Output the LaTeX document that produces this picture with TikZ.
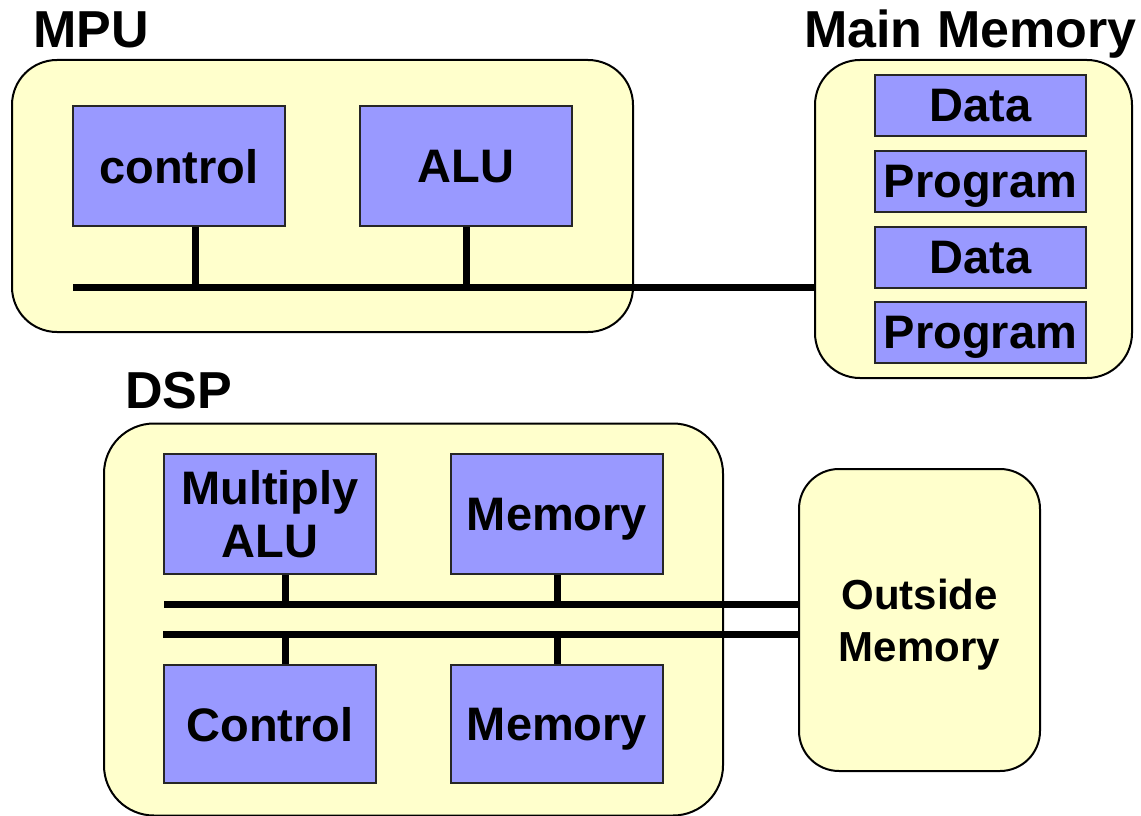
\documentclass[tikz,border=0pt]{standalone}
\usepackage{fontspec}
\setmainfont{Liberation Sans}
\definecolor{paleyellow}{HTML}{FFFFCC}
\definecolor{lavblue}{HTML}{9999FF}
\begin{document}
\begin{tikzpicture}[x=1pt,y=-1pt,
  outer/.style={draw=black, line width=2pt, fill=paleyellow, rounded corners=45pt, inner sep=0pt},
  unit/.style={draw=black!85, line width=2pt, fill=lavblue, inner sep=0pt, minimum width=212pt, minimum height=120pt, font=\fontsize{47}{55}\selectfont\bfseries, align=center, text depth=0pt},
  memunit/.style={unit, minimum width=211pt, minimum height=61pt},
  title/.style={anchor=base west, inner sep=0pt, font=\fontsize{52}{60}\selectfont\bfseries},
  bus/.style={line width=7pt}
]
\useasboundingbox (0,0) rectangle (1141,816);
% MPU
\node[title] (tmpu) at (33,48) {MPU};
\node[outer, minimum width=621pt, minimum height=272pt] (mpu) at (322.5,196) {};
\node[unit] (ctl) at (179,166) {control};
\node[unit] (alu) at (466,166) {ALU};
% Main memory
\node[title] (tmm) at (804,48) {Main Memory};
\node[outer, minimum width=317pt, minimum height=318pt] (mm) at (973.5,219) {};
\node[memunit] (d1) at (980.5,105.5) {Data};
\node[memunit] (p1) at (980.5,181.5) {Program};
\node[memunit] (d2) at (980.5,257.5) {Data};
\node[memunit] (p2) at (980.5,332.5) {Program};
% MPU bus
\coordinate (busL) at (73,287);
\draw[bus] (busL) -- (busL -| mm.west);
\draw[bus] (ctl.south -| 195,0) -- (195,287);
\draw[bus] (alu.south) -- (alu.south |- busL);
% DSP
\node[title] (tdsp) at (125,408) {DSP};
\node[outer, rounded corners=50pt, minimum width=619pt, minimum height=392pt] (dsp) at (413.5,619.5) {};
\node[unit] (mul) at (270,514) {Multiply\\[-2pt]ALU};
\node[unit] (mem1) at (557,514) {Memory};
\node[unit, minimum height=118pt] (con) at (270,724) {Control};
\node[unit, minimum height=118pt] (mem2) at (557,724) {Memory};
\node[outer, rounded corners=40pt, minimum width=241pt, minimum height=302pt, font=\fontsize{42}{52}\selectfont\bfseries, align=center, text depth=0pt] (out) at (919.5,620) {Outside\\Memory};
\coordinate (b1) at (164,604);
\coordinate (b2) at (163,634);
\draw[bus] (b1) -- (b1 -| out.west);
\draw[bus] (b2) -- (b2 -| out.west);
\draw[bus] (mul.south -| 285,0) -- (285,604);
\draw[bus] (mem1.south) -- (mem1.south |- b1);
\draw[bus] (con.north -| 285,0) -- (285,634);
\draw[bus] (mem2.north) -- (mem2.north |- b2);
\end{tikzpicture}
\end{document}
